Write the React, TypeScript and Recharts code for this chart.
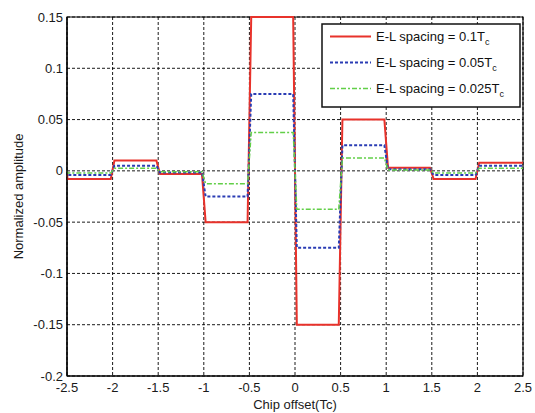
import React from 'react';
import { LineChart, Line, XAxis, YAxis, CartesianGrid, Label, ReferenceArea } from 'recharts';

const X_BREAKS = [-2.5, -2, -1.5, -1, -0.5, 0, 0.5, 1, 1.5, 2, 2.5];
const X_TICKS = [-2.5, -2, -1.5, -1, -0.5, 0, 0.5, 1, 1.5, 2, 2.5];
const Y_TICKS = [-0.2, -0.15, -0.1, -0.05, 0, 0.05, 0.1, 0.15];

const RED_LEVELS = [-0.008, 0.01, -0.003, -0.05, 0.15, -0.15, 0.05, 0.003, -0.008, 0.008];
const BLUE_LEVELS = [-0.004, 0.005, -0.0015, -0.025, 0.075, -0.075, 0.025, 0.0015, -0.004, 0.005];
const GREEN_LEVELS = [-0.002, 0.0025, -0.0008, -0.0125, 0.0375, -0.0375, 0.0125, 0.0008, -0.002, 0.0025];
const START_LEVEL = 0;

const SERIES_NAMES = ['E-L spacing = 0.1T', 'E-L spacing = 0.05T', 'E-L spacing = 0.025T'];
const RAMP = 0.02;

const RED = '#e8322b';
const BLUE = '#2a3cb4';
const GREEN = '#62cf48';
const FONT = '"Liberation Sans", Arial, Helvetica, sans-serif';

function buildSteps(levels: number[]) {
  const pts: { x: number; y: number }[] = [];
  pts.push({ x: X_BREAKS[0], y: START_LEVEL });
  pts.push({ x: X_BREAKS[0] + 0.005, y: levels[0] });
  for (let i = 1; i < levels.length; i++) {
    const b = X_BREAKS[i];
    pts.push({ x: b - RAMP, y: levels[i - 1] });
    pts.push({ x: b + RAMP, y: levels[i] });
  }
  pts.push({ x: X_BREAKS[X_BREAKS.length - 1], y: levels[levels.length - 1] });
  return pts;
}

const redData = buildSteps(RED_LEVELS);
const blueData = buildSteps(BLUE_LEVELS);
const greenData = buildSteps(GREEN_LEVELS);

const LegendBox = () => {
  const rows = [
    { name: SERIES_NAMES[0], color: RED, dash: undefined as string | undefined, w: 2 },
    { name: SERIES_NAMES[1], color: BLUE, dash: '3 2', w: 2 },
    { name: SERIES_NAMES[2], color: GREEN, dash: '5 2 2 2', w: 1.5 },
  ];
  return (
    <svg width={200} height={85} style={{ display: 'block' }}>
      <rect x={1} y={1} width={198} height={83} fill="#fff" stroke="#111" strokeWidth={1.5} />
      {rows.map((r, i) => {
        const cy = 13.5 + i * 26;
        return (
          <g key={i}>
            <line x1={9} x2={50} y1={cy} y2={cy} stroke={r.color} strokeWidth={r.w} strokeDasharray={r.dash} />
            <text x={55} y={cy + 4.5} fontFamily={FONT} fontSize={13} fill="#111">
              {r.name}
              <tspan fontSize={9} dy={4}>c</tspan>
            </text>
          </g>
        );
      })}
    </svg>
  );
};

export default function App() {
  const tickStyle = { fontFamily: FONT, fontSize: 13, fill: '#1a1a1a' };
  return (
    <div style={{ position: 'absolute', left: 0, top: 0, width: 535, height: 413, background: '#fff' }}>
      <LineChart width={535} height={413} margin={{ top: 17, right: 12, bottom: 0, left: 0 }}>
        <CartesianGrid xAxisId="main" yAxisId="main" stroke="#000" strokeDasharray="3 2" strokeWidth={0.9} />
        <XAxis
          xAxisId="main"
          type="number"
          dataKey="x"
          domain={[-2.5, 2.5]}
          ticks={X_TICKS}
          interval={0}
          allowDataOverflow
          height={37}
          tickLine={false}
          tickSize={0}
          tickMargin={7}
          tick={tickStyle}
          axisLine={{ stroke: '#000', strokeWidth: 1.2 }}
        >
          <Label value="Chip offset(Tc)" position="insideBottom" offset={4} style={{ fontFamily: FONT, fontSize: 13, fill: '#1a1a1a' }} />
        </XAxis>
        <YAxis
          yAxisId="main"
          type="number"
          domain={[-0.2, 0.15]}
          ticks={Y_TICKS}
          interval={0}
          width={67}
          tickLine={false}
          tickSize={0}
          tickMargin={4}
          tick={tickStyle}
          axisLine={{ stroke: '#000', strokeWidth: 1.2 }}
        >
          <Label
            value="Normalized amplitude"
            angle={-90}
            position="insideLeft"
            offset={18}
            style={{ fontFamily: FONT, fontSize: 13, fill: '#1a1a1a', textAnchor: 'middle' }}
          />
        </YAxis>
        <ReferenceArea
          xAxisId="main"
          yAxisId="main"
          x1={-2.5}
          x2={2.5}
          y1={-0.2}
          y2={0.15}
          fill="none"
          fillOpacity={0}
          stroke="#000"
          strokeWidth={1.2}
          ifOverflow="visible"
        />
        <Line
          xAxisId="main"
          yAxisId="main"
          data={redData}
          dataKey="y"
          name={SERIES_NAMES[0]}
          type="linear"
          stroke={RED}
          strokeWidth={2}
          dot={false}
          isAnimationActive={false}
        />
        <Line
          xAxisId="main"
          yAxisId="main"
          data={blueData}
          dataKey="y"
          name={SERIES_NAMES[1]}
          type="linear"
          stroke={BLUE}
          strokeWidth={2}
          strokeDasharray="3 2"
          dot={false}
          isAnimationActive={false}
        />
        <Line
          xAxisId="main"
          yAxisId="main"
          data={greenData}
          dataKey="y"
          name={SERIES_NAMES[2]}
          type="linear"
          stroke={GREEN}
          strokeWidth={1.5}
          strokeDasharray="5 2 2 2"
          dot={false}
          isAnimationActive={false}
        />
      </LineChart>
      <div style={{ position: 'absolute', left: 321, top: 23, width: 200, height: 85 }}>
        <LegendBox />
      </div>
    </div>
  );
}
